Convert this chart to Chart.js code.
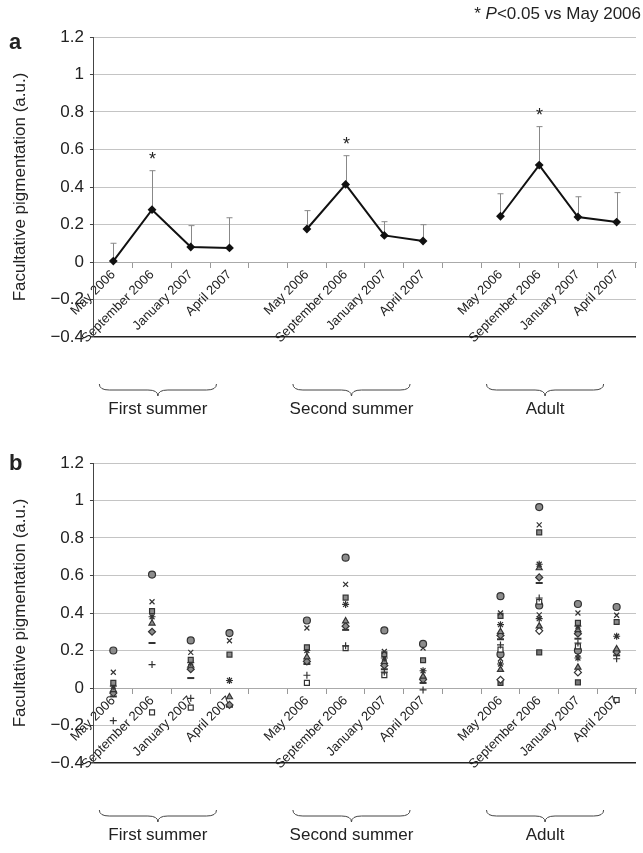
<!DOCTYPE html>
<html lang="en">
<head>
<meta charset="UTF-8">
<title>Facultative pigmentation</title>
<script src="https://cdn.jsdelivr.net/npm/chart.js"></script>
<style>
  body { margin: 0; background: #fff; font-family: "Liberation Sans", Arial, sans-serif; color: #222; }
  .panel { position: absolute; left: 0; width: 643px; }
  .letter { position: absolute; left: 9px; font-weight: bold; font-size: 22px; line-height: 22px; }
  .note { position: absolute; right: 2px; top: 4px; font-size: 17px; line-height: 20px; }
</style>
</head>
<body>
<div class="panel" style="top:0;height:426px"><canvas id="chartA" width="643" height="426"></canvas></div>
<div class="panel" style="top:426px;height:427px"><canvas id="chartB" width="643" height="427"></canvas></div>
<div class="letter" style="top:31px">a</div>
<div class="letter" style="top:452px">b</div>
<div class="note">* <i>P</i>&lt;0.05 vs May 2006</div>
<script>
// categories
const timePoints = ['May 2006', 'September 2006', 'January 2007', 'April 2007'];
const groups = ['First summer', 'Second summer', 'Adult'];

// panel a: means and top of error bars
const meanFirst = [0.005, 0.279, 0.08, 0.075];
const meanSecond = [0.176, 0.414, 0.142, 0.112];
const meanAdult = [0.244, 0.517, 0.24, 0.213];
const upperFirst = [0.10, 0.487, 0.194, 0.236];
const upperSecond = [0.274, 0.567, 0.215, 0.199];
const upperAdult = [0.364, 0.722, 0.348, 0.37];
const significant = [false, true, false, false];

// panel b: individual values
const firstMay = [0.20, 0.084, 0.027, 0.01, -0.01, -0.027, -0.045, -0.174];
const firstSep = [0.605, 0.46, 0.41, 0.38, 0.345, 0.30, 0.24, 0.125, -0.13];
const firstJan = [0.254, 0.19, 0.15, 0.135, 0.12, 0.10, 0.053, -0.055, -0.105];
const firstApr = [0.293, 0.252, 0.178, 0.04, -0.048, -0.09, -0.10];
const secondMay = [0.36, 0.32, 0.217, 0.20, 0.165, 0.142, 0.128, 0.068, 0.027];
const secondSep = [0.695, 0.553, 0.482, 0.446, 0.357, 0.33, 0.31, 0.225, 0.212];
const secondJan = [0.307, 0.195, 0.18, 0.16, 0.14, 0.12, 0.10, 0.085, 0.068];
const secondApr = [0.235, 0.213, 0.148, 0.092, 0.062, 0.045, 0.027, -0.01];
const adultMay = [0.49, 0.40, 0.385, 0.338, 0.30, 0.28, 0.26, 0.23, 0.205, 0.18, 0.156, 0.128, 0.098, 0.044, 0.027];
const adultSep = [0.965, 0.87, 0.83, 0.66, 0.64, 0.59, 0.56, 0.48, 0.46, 0.44, 0.39, 0.37, 0.33, 0.305, 0.19];
const adultJan = [0.448, 0.40, 0.347, 0.33, 0.31, 0.29, 0.263, 0.24, 0.222, 0.20, 0.178, 0.16, 0.11, 0.083, 0.03];
const adultApr = [0.432, 0.388, 0.352, 0.276, 0.208, 0.192, 0.174, 0.156, -0.064];

// 4 time points per group, one empty slot between groups
const labels = [...timePoints, '', ...timePoints, '', ...timePoints];
const join = (a, b, c) => [...a, null, ...b, null, ...c];

const meanData = join(meanFirst, meanSecond, meanAdult);
const upperData = join(upperFirst, upperSecond, upperAdult);
const starData = join(significant, significant, significant);

const individuals = join(
  [firstMay, firstSep, firstJan, firstApr],
  [secondMay, secondSep, secondJan, secondApr],
  [adultMay, adultSep, adultJan, adultApr]
);

const fmt = v => {
  const r = Math.round(v * 10) / 10;
  return r < 0 ? '\u2212' + Math.abs(r) : String(r);
};

function scales() {
  return {
    x: {
      position: { y: 0 },
      offset: true,
      grid: { offset: true, drawOnChartArea: false, tickLength: 5, color: '#999', tickColor: '#999' },
      border: { color: '#aaa' },
      ticks: { autoSkip: false, minRotation: 45, maxRotation: 45, padding: 0, color: '#222',
               font: { size: 13, family: '"Liberation Sans", Arial, sans-serif' } }
    },
    y: {
      min: -0.4, max: 1.2,
      grid: { color: c => c.tick && c.tick.value < -0.39 ? '#222' : '#c4c4c4',
              lineWidth: c => c.tick && c.tick.value < -0.39 ? 1.5 : 1,
              tickLength: 4, tickColor: '#444' },
      border: { color: '#444' },
      ticks: { stepSize: 0.2, padding: 6, color: '#222', callback: fmt,
               font: { size: 17, family: '"Liberation Sans", Arial, sans-serif' } },
      title: { display: true, text: 'Facultative pigmentation (a.u.)', color: '#222',
               padding: { top: 2, bottom: 14 },
               font: { size: 17, family: '"Liberation Sans", Arial, sans-serif' } }
    }
  };
}

// braces and group names under the axis
const bracePlugin = {
  id: 'braces',
  afterDraw(chart) {
    const { ctx, scales: { x }, chartArea } = chart;
    ctx.save();
    ctx.strokeStyle = '#444';
    ctx.lineWidth = 1;
    groups.forEach((name, g) => {
      const x0 = x.getPixelForValue(g * 5) - 14;
      const x1 = x.getPixelForValue(g * 5 + 3) - 13;
      const cx = (x0 + x1) / 2;
      const y0 = chartArea.bottom + 47;
      const y1 = y0 + 6, y2 = y0 + 12;
      ctx.beginPath();
      ctx.moveTo(x0, y0);
      ctx.quadraticCurveTo(x0, y1, x0 + 10, y1);
      ctx.lineTo(cx - 10, y1);
      ctx.quadraticCurveTo(cx, y1, cx, y2);
      ctx.quadraticCurveTo(cx, y1, cx + 10, y1);
      ctx.lineTo(x1 - 10, y1);
      ctx.quadraticCurveTo(x1, y1, x1, y0);
      ctx.stroke();
      ctx.fillStyle = '#222';
      ctx.font = '17px "Liberation Sans", Arial, sans-serif';
      ctx.textAlign = 'center';
      ctx.textBaseline = 'middle';
      ctx.fillText(name, cx, y0 + 25);
    });
    ctx.restore();
  }
};

// error bars (upper only) and significance stars
const errorPlugin = {
  id: 'errorBars',
  beforeDatasetsDraw(chart) {
    const { ctx, scales: { y } } = chart;
    const pts = chart.getDatasetMeta(0).data;
    ctx.save();
    ctx.strokeStyle = '#888';
    ctx.lineWidth = 1;
    ctx.fillStyle = '#222';
    ctx.font = '18px "Liberation Sans", Arial, sans-serif';
    ctx.textAlign = 'center';
    ctx.textBaseline = 'alphabetic';
    upperData.forEach((u, i) => {
      if (u === null) return;
      const px = Math.round(pts[i].x) + 0.5;
      const top = y.getPixelForValue(u);
      ctx.beginPath();
      ctx.moveTo(px, pts[i].y);
      ctx.lineTo(px, top);
      ctx.moveTo(px - 3, top);
      ctx.lineTo(px + 3, top);
      ctx.stroke();
      if (starData[i]) ctx.fillText('*', px, top - 6);
    });
    ctx.restore();
  }
};

const common = {
  responsive: false,
  animation: false,
  plugins: { legend: { display: false }, tooltip: { enabled: false } }
};

new Chart(document.getElementById('chartA'), {
  type: 'line',
  data: {
    labels: labels,
    datasets: [{
      data: meanData,
      borderColor: '#111',
      borderWidth: 2,
      pointStyle: 'rectRot',
      pointRadius: 3,
      pointBackgroundColor: '#111',
      pointBorderColor: '#111',
      spanGaps: false
    }]
  },
  options: { ...common, layout: { padding: { left: 8, right: 7, top: 37, bottom: 89 } }, scales: scales() },
  plugins: [errorPlugin, bracePlugin]
});

const styles = ['circle', 'crossRot', 'rect', 'star', 'triangle', 'rectRot', 'line', 'cross',
                'rect', 'circle', 'crossRot', 'star', 'triangle', 'rectRot', 'rect'];
const fills = ['#8c8c8c', '#8c8c8c', '#8c8c8c', '#8c8c8c', '#8c8c8c', '#8c8c8c', '#222', '#222',
               '#fff', '#8c8c8c', '#8c8c8c', '#8c8c8c', '#8c8c8c', '#fff', '#777'];

const nMax = Math.max(...individuals.map(v => v ? v.length : 0));
const scatterSets = [];
for (let k = 0; k < nMax; k++) {
  scatterSets.push({
    data: individuals.map(v => v && v[k] !== undefined ? v[k] : null),
    showLine: false,
    pointStyle: styles[k],
    pointRadius: 3.5,
    pointBackgroundColor: fills[k],
    pointBorderColor: '#333',
    pointBorderWidth: styles[k] === 'line' ? 2 : 1.2
  });
}

new Chart(document.getElementById('chartB'), {
  type: 'line',
  data: { labels: labels, datasets: scatterSets },
  options: { ...common, layout: { padding: { left: 8, right: 7, top: 37, bottom: 90 } }, scales: scales() },
  plugins: [bracePlugin]
});
</script>
</body>
</html>
